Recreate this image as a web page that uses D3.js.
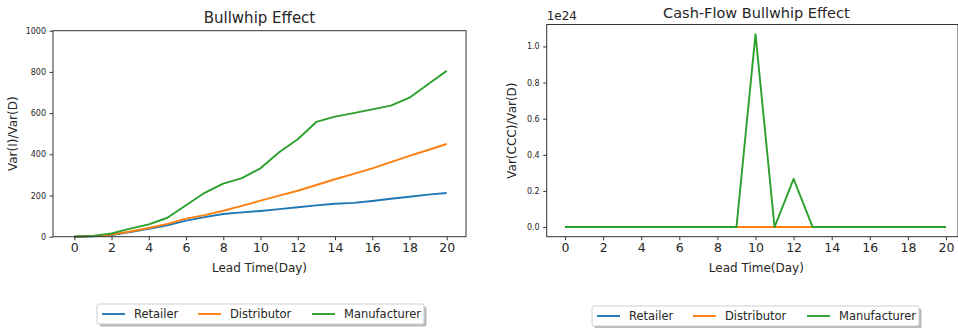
<!DOCTYPE html>
<html><head><meta charset="utf-8">
<script src="https://cdn.jsdelivr.net/npm/d3@7"></script>
<style>
html,body{margin:0;padding:0;background:#fff;}
text{font-family:"DejaVu Sans",sans-serif;fill:#262626;}
</style></head>
<body><svg id="c" width="958" height="328"></svg>
<script>
const leadTime = d3.range(0, 21);
const seriesNames = ["Retailer", "Distributor", "Manufacturer"];
const seriesColors = ["#1f77b4", "#ff7f0e", "#2ca02c"];
// Bullwhip Effect: Var(I)/Var(D)
const bwRetailer = [0,2,8,22,38,55,78,95,110,118,125,134,143,152,160,164,173,184,194,204,212];
const bwDistributor = [0,3,10,25,42,62,88,105,126,150,175,199,223,251,279,305,332,362,392,421,450];
const bwManufacturer = [0,4,16,39,60,92,153,213,258,284,332,410,473,557,583,600,618,636,675,740,805];
// Cash-Flow Bullwhip Effect: Var(CCC)/Var(D)
const cfRetailer = [0,0,0,0,0,0,0,0,0,0,0,0,0,0,0,0,0,0,0,0,0];
const cfDistributor = [0,0,0,0,0,0,0,0,0,0,0,0,0,0,0,0,0,0,0,0,0];
const cfManufacturer = [0,0,0,0,0,0,0,0,0,0,1.068e24,0,0.267e24,0,0,0,0,0,0,0,0];
const xTicks = [0,2,4,6,8,10,12,14,16,18,20];
const bwYTicks = [0,200,400,600,800,1000];
const cfYTicks = [0,0.2e24,0.4e24,0.6e24,0.8e24,1.0e24];

const svg = d3.select("#c");

function panel(opts) {
  const g = svg.append("g");
  const x = opts.x, y = opts.y;
  const [x0, x1] = opts.box[0], [y0, y1] = opts.box[1];
  const line = d3.line().x((d, i) => x(leadTime[i])).y(d => y(d));
  opts.series.forEach((s, k) => {
    g.append("path").datum(s).attr("d", line)
      .attr("fill", "none").attr("stroke", seriesColors[k])
      .attr("stroke-width", 1.9).attr("stroke-linejoin", "round");
  });
  g.append("rect").attr("x", x0).attr("y", y0).attr("width", x1 - x0).attr("height", y1 - y0)
    .attr("fill", "none").attr("stroke", "#333").attr("stroke-width", 1);
  const xa = g.append("g").attr("transform", `translate(0,${y1})`)
    .call(d3.axisBottom(x).tickValues(xTicks).tickSize(3.5).tickPadding(3).tickFormat(d3.format("d")));
  xa.select(".domain").remove();
  xa.selectAll("line").attr("stroke", "#333");
  xa.selectAll("text").style("font-size", "12.5px").attr("fill", "#262626");
  const ya = g.append("g").attr("transform", `translate(${x0},0)`)
    .call(d3.axisLeft(y).tickValues(opts.yTicks).tickSize(3.5).tickPadding(3.5).tickFormat(opts.yFmt));
  ya.select(".domain").remove();
  ya.selectAll("line").attr("stroke", "#333");
  ya.selectAll("text").style("font-size", "8px").attr("fill", "#333");
  g.append("text").attr("x", (x0 + opts.titleRight) / 2).attr("y", y0 - opts.titleGap)
    .attr("text-anchor", "middle").style("font-size", opts.titleSize).text(opts.title);
  g.append("text").attr("x", (x0 + opts.titleRight) / 2).attr("y", y1 + 35)
    .attr("text-anchor", "middle").style("font-size", "12px").text("Lead Time(Day)");
  g.append("text").attr("transform", `translate(${opts.yLabelX},${(y0 + y1) / 2}) rotate(-90)`)
    .attr("text-anchor", "middle").style("font-size", "12px").text(opts.yLabel);
  const L = opts.legend;
  const lg = g.append("g").attr("transform", `translate(${L.x},${L.y})`);
  lg.append("rect").attr("x", 2.5).attr("y", 2.5).attr("width", L.w).attr("height", 20).attr("rx", 2)
    .attr("fill", "#8a8a8a").attr("opacity", 0.6);
  lg.append("rect").attr("x", 0).attr("y", 0).attr("width", L.w).attr("height", 20).attr("rx", 2)
    .attr("fill", "#fff").attr("stroke", "#d0d0d0").attr("stroke-width", 1);
  const offs = [5, 101, 215];
  seriesNames.forEach((n, k) => {
    lg.append("line").attr("x1", offs[k]).attr("x2", offs[k] + 23).attr("y1", 10).attr("y2", 10)
      .attr("stroke", seriesColors[k]).attr("stroke-width", 1.9);
    lg.append("text").attr("x", offs[k] + 32).attr("y", 14).style("font-size", "11.5px").text(n);
  });
  return g;
}

const xL = d3.scaleLinear().domain([0, 20]).range([74.3, 446.7]);
const yL = d3.scaleLinear().domain([0, 1000]).range([236.7, 30.7]);
panel({
  x: xL, y: yL,
  box: [[xL.invert(53), xL.invert(466)].map(xL), [yL(1000), yL(0)]],
  titleRight: 466, titleSize: "15px", titleGap: 8,
  series: [bwRetailer, bwDistributor, bwManufacturer],
  yTicks: bwYTicks, yFmt: d3.format("d"),
  title: "Bullwhip Effect", yLabel: "Var(I)/Var(D)", yLabelX: 17,
  legend: {x: 97, y: 304, w: 327}
});

const xR = d3.scaleLinear().domain([0, 20]).range([565, 946]);
const cfMax = d3.max(cfManufacturer);
const yR = d3.scaleLinear().domain([-0.05 * cfMax, 1.05 * cfMax]).range([236.7, 24.5]);
const gR = panel({
  x: xR, y: yR,
  box: [[xR(-0.96), 958], [yR(1.05 * cfMax), yR(-0.05 * cfMax)]],
  titleRight: 966, titleSize: "14.5px", titleGap: 6.5,
  series: [cfRetailer, cfDistributor, cfManufacturer],
  yTicks: cfYTicks, yFmt: d => (d / 1e24).toFixed(1),
  title: "Cash-Flow Bullwhip Effect", yLabel: "Var(CCC)/Var(D)", yLabelX: 516,
  legend: {x: 592, y: 306, w: 327}
});
gR.append("text").attr("x", xR(-0.96)).attr("y", 20).style("font-size", "12px").text("1e24");
</script></body></html>
